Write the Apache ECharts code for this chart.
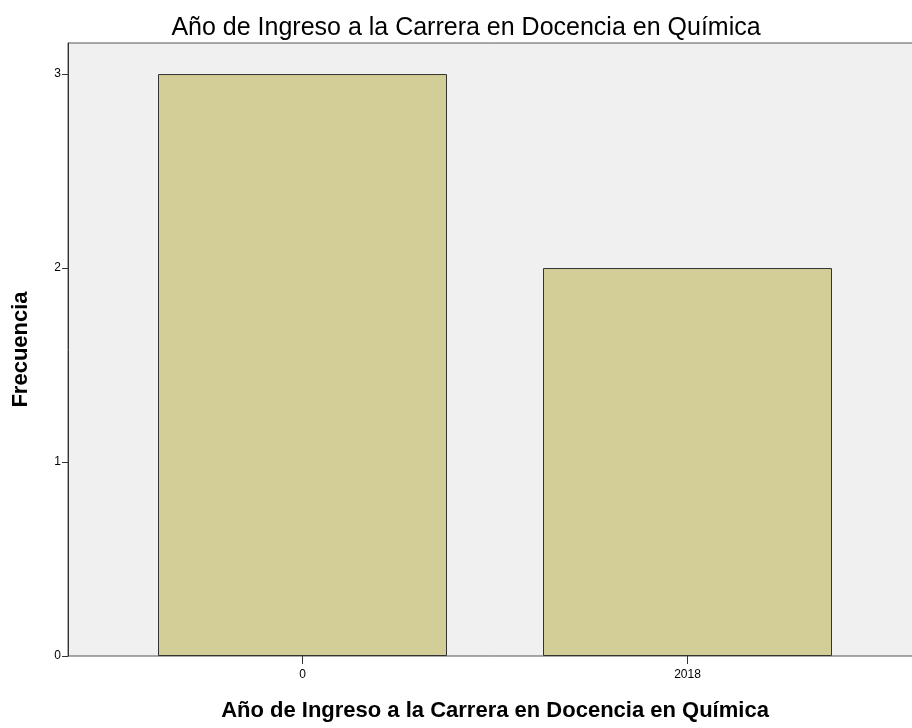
<!DOCTYPE html>
<html>
<head>
<meta charset="utf-8">
<script src="https://cdn.jsdelivr.net/npm/echarts@6/dist/echarts.min.js"></script>
<style>
  html, body { margin: 0; padding: 0; background: #fff; }
  #main { width: 912px; height: 728px; }
</style>
</head>
<body>
<div id="main"></div>
<script>
// datos del grafico
var categorias = ['0', '2018'];
var frecuencias = [3, 2];
var tituloTexto = 'Año de Ingreso a la Carrera en Docencia en Química';
var ejeXNombre = 'Año de Ingreso a la Carrera en Docencia en Química';
var ejeYNombre = 'Frecuencia';

(function () {
  var myChart = echarts.init(document.getElementById('main'));

  var option = {
    backgroundColor: '#fff',
    title: {
      text: tituloTexto,
      left: 461,
      top: 11,
      textAlign: 'center',
      textStyle: {
        fontFamily: 'Liberation Sans',
        fontSize: 25,
        fontWeight: 'normal',
        color: '#000'
      }
    },
    grid: [
      { // marco con fondo gris
        left: 68, right: -10, top: 43, bottom: 72,
        containLabel: false,
        outerBoundsMode: 'none',
        show: true,
        backgroundColor: '#f0f0f0',
        borderColor: '#555',
        borderWidth: 1
      },
      { // zona de las barras
        left: 110, right: 32, top: 43, bottom: 72,
        containLabel: false,
        outerBoundsMode: 'none'
      }
    ],
    xAxis: [
      { gridIndex: 0, type: 'value', show: false, min: 0, max: 1 },
      {
        gridIndex: 1,
        type: 'category',
        data: categorias,
        axisLine: { show: false },
        axisTick: { show: true, alignWithLabel: true, length: 8, lineStyle: { color: '#333' } },
        axisLabel: { fontFamily: 'Liberation Sans', fontSize: 12, color: '#000', margin: 13 },
        name: ejeXNombre,
        nameLocation: 'middle',
        nameGap: 44,
        nameTextStyle: { fontFamily: 'Liberation Sans', fontSize: 22, fontWeight: 'bold', color: '#000' }
      }
    ],
    yAxis: [
      {
        gridIndex: 0,
        type: 'value',
        min: 0,
        max: 3.16,
        interval: 1,
        axisLine: { show: true, lineStyle: { color: '#333' } },
        axisTick: { show: true, length: 6, lineStyle: { color: '#333' } },
        axisLabel: { fontFamily: 'Liberation Sans', fontSize: 12, color: '#000', margin: 7, showMaxLabel: false },
        splitLine: { show: false },
        name: ejeYNombre,
        nameLocation: 'middle',
        nameGap: 36,
        nameTextStyle: { fontFamily: 'Liberation Sans', fontSize: 22, fontWeight: 'bold', color: '#000' }
      },
      { gridIndex: 1, type: 'value', min: 0, max: 3.16, show: false }
    ],
    series: [{
      type: 'bar',
      xAxisIndex: 1,
      yAxisIndex: 1,
      data: frecuencias,
      barWidth: 289,
      itemStyle: {
        color: '#d3ce97',
        borderColor: '#333',
        borderWidth: 1
      }
    }]
  };

  myChart.setOption(option);
  window.addEventListener('resize', function () {
    myChart.resize();
  });
})();
</script>
</body>
</html>
